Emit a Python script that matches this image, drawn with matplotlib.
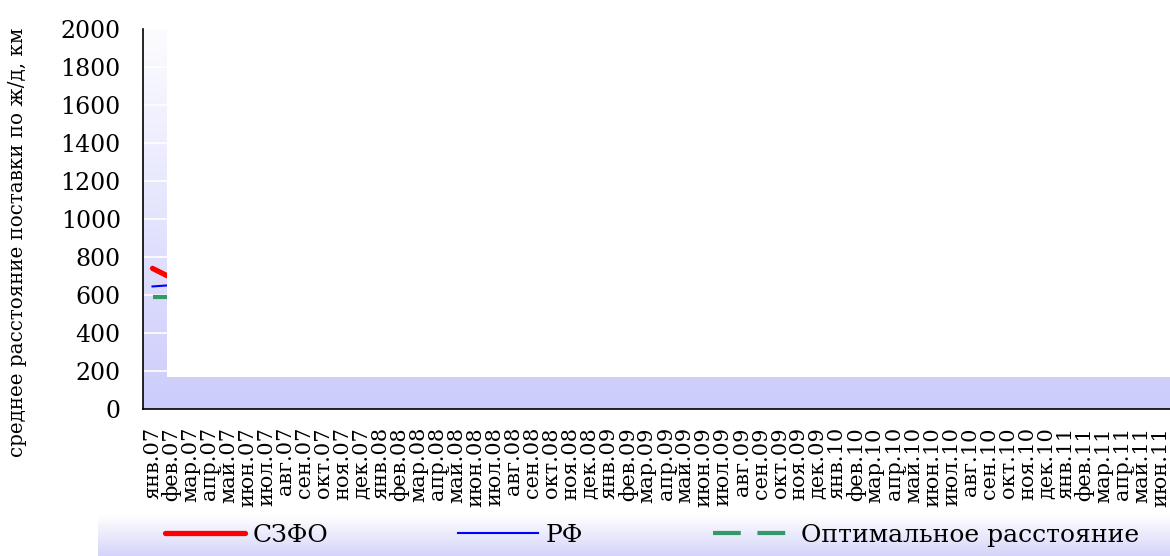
import numpy as np
import matplotlib
matplotlib.use("Agg")
import matplotlib.pyplot as plt
from matplotlib.patches import Rectangle

plt.rcParams['font.family'] = ['DejaVu Serif']
plt.rcParams['lines.scale_dashes'] = False

months = ["янв.", "фев.", "мар.", "апр.", "май.", "июн.", "июл.", "авг.", "сен.", "окт.", "ноя.", "дек."]
categories = []
for yr in ["07", "08", "09", "10", "11"]:
    for m in months:
        categories.append(m + yr)
categories = categories[:54]  # янв.07 .. июн.11

# visible values (rest of the series is hidden behind the white panel)
szfo = [740, 690]
rf = [645, 652]
optimal = [590, 590]

yticks = list(range(0, 2001, 200))

fig = plt.figure(figsize=(11.7, 5.56), dpi=100)
W, H = 1170, 556
ax = fig.add_axes([143 / W, (H - 409) / H, (1170 - 143) / W, (409 - 29) / H])

x = np.arange(len(categories))
ax.set_xlim(-0.5, len(categories) - 0.5)
ax.set_ylim(0, 2000)

# gradient background
grad = np.linspace(0, 1, 256).reshape(-1, 1)
top = np.array([252, 252, 255]) / 255
bot = np.array([204, 204, 252]) / 255
img = top + (bot - top) * grad[:, :, None]
ax.imshow(img, extent=[0, 1, 0, 1], transform=ax.transAxes, aspect='auto', zorder=0)

for v in yticks[1:]:
    ax.axhline(v, color='white', lw=1.2, zorder=1)

ax.plot(x[:len(szfo)], szfo, color='#ff0000', lw=3.8, solid_capstyle='round', zorder=3, label='СЗФО')
ax.plot(x[:len(rf)], rf, color='#0000ff', lw=1.5, zorder=3, label='РФ')
ax.plot(x[:len(optimal)], optimal, color='#339966', lw=3, linestyle=(0, (20, 12)), zorder=3,
        label='Оптимальное расстояние')

# white panel covering the inner plot area (as in the reference rendering)
ax.add_patch(Rectangle((24 / 1027, 32 / 380), 1, 1, transform=ax.transAxes,
                       facecolor='white', edgecolor='none', zorder=4))

ax.set_xticks(x)
ax.set_xticklabels(categories, rotation=90, fontsize=15)
ax.set_yticks(yticks)
ax.set_yticklabels([str(v) for v in yticks], fontsize=17)
ax.tick_params(axis='both', length=0)
ax.tick_params(axis='y', pad=16)
ax.tick_params(axis='x', pad=13)
for s in ['top', 'right']:
    ax.spines[s].set_visible(False)
for s in ['left', 'bottom']:
    ax.spines[s].set_color('black')
    ax.spines[s].set_linewidth(1.2)
    ax.spines[s].set_zorder(5)

fig.text(18 / W, 1 - 242 / H, 'среднее расстояние поставки по ж/д, км', rotation=90,
         ha='center', va='center', fontsize=14.3)

# legend box with gradient
lax = fig.add_axes([98 / W, 0, (1170 - 98) / W, 41 / H])
ltop = np.array([255, 255, 255]) / 255
lbot = np.array([212, 212, 250]) / 255
limg = ltop + (lbot - ltop) * grad[:, :, None]
lax.imshow(limg, extent=[0, 1, 0, 1], transform=lax.transAxes, aspect='auto')
lax.set_xlim(0, 1)
lax.set_ylim(0, 1)
lax.axis('off')
handles, labels = ax.get_legend_handles_labels()
leg = lax.legend(handles, labels, loc='center left', bbox_to_anchor=((165 - 98) / 1072, 0.5),
                 ncol=3, frameon=False, fontsize=18, handlelength=3.2, handletextpad=0.3,
                 columnspacing=5.2, borderpad=0, borderaxespad=0)

fig.savefig('out.png', dpi=100)
